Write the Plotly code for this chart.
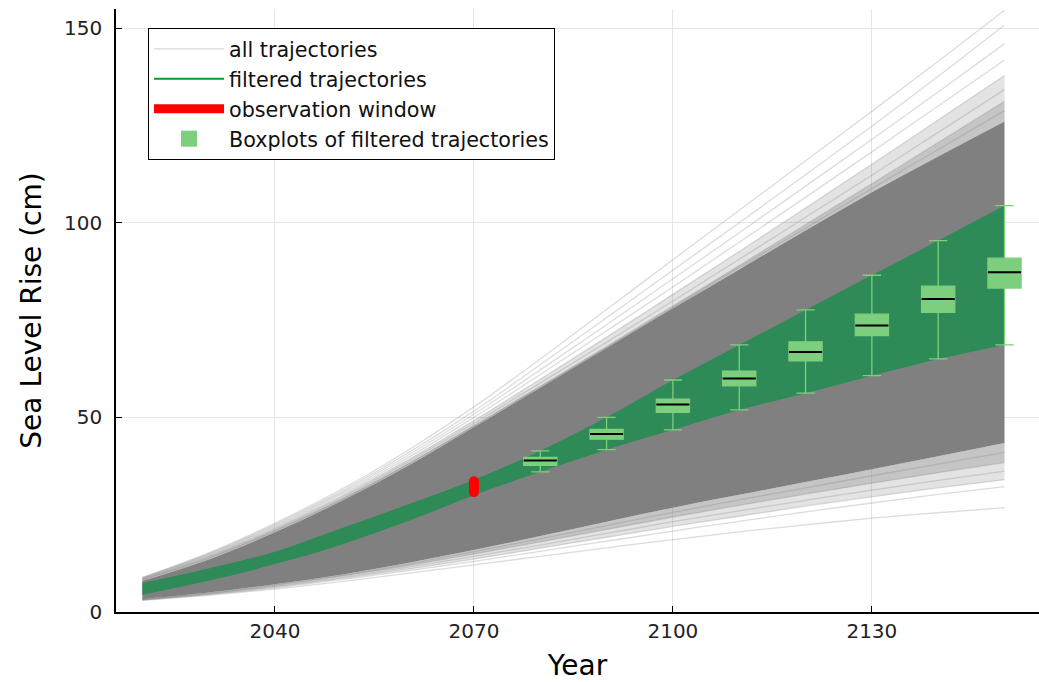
import plotly.graph_objects as go

# ---- data -----------------------------------------------------------------
years = [2020, 2030, 2040, 2050, 2060, 2070, 2080, 2090, 2100, 2110, 2120, 2130, 2140, 2150]

# dense core of all simulated trajectories (cm)
core_upper = [8.0, 13.5, 20.5, 28.5, 37.5, 47.5, 57.6, 67.8, 78.0, 88.0, 98.0, 107.8, 117.0, 126.0]
core_lower = [3.3, 5.0, 7.1, 9.6, 12.6, 15.9, 19.5, 23.2, 26.8, 30.1, 33.4, 36.7, 40.0, 43.4]

# individual trajectories at the upper fringe (cm)
traj_up_1 = [8.9, 15.2, 22.8, 31.5, 41.5, 52.7, 65.0, 77.7, 90.5, 103.2, 115.9, 128.6, 141.5, 154.6]
traj_up_2 = [8.8, 15.0, 22.5, 31.0, 40.8, 51.6, 63.5, 75.6, 87.8, 100.0, 112.3, 124.8, 137.6, 150.8]
traj_up_3 = [8.7, 14.8, 22.2, 30.6, 40.2, 50.8, 62.2, 73.8, 85.6, 97.4, 109.4, 121.4, 133.6, 146.0]
traj_up_4 = [8.6, 14.6, 21.9, 30.2, 39.6, 50.0, 61.0, 72.2, 83.5, 95.0, 106.5, 118.2, 130.0, 141.8]
traj_up_5 = [8.5, 14.4, 21.6, 29.8, 39.0, 49.2, 59.8, 70.6, 81.6, 92.6, 103.8, 115.0, 126.4, 137.8]
traj_up_6 = [8.4, 14.2, 21.3, 29.4, 38.5, 48.5, 58.8, 69.3, 79.9, 90.6, 101.4, 112.2, 123.2, 134.2]
traj_up_7 = [8.3, 14.0, 21.0, 29.0, 38.0, 47.9, 58.0, 68.2, 78.6, 89.0, 99.5, 110.0, 120.6, 131.2]
traj_up_8 = [8.2, 13.8, 20.8, 28.7, 37.8, 47.7, 57.8, 67.9, 78.2, 88.5, 98.6, 108.8, 118.8, 128.8]

# individual trajectories at the lower fringe (cm)
traj_lo_1 = [3.0, 4.3, 5.9, 7.8, 9.9, 12.1, 14.3, 16.5, 18.6, 20.6, 22.4, 24.1, 25.5, 26.8]
traj_lo_2 = [3.1, 4.5, 6.2, 8.3, 10.6, 13.0, 15.6, 18.2, 20.8, 23.3, 25.7, 28.0, 30.2, 32.2]
traj_lo_3 = [3.1, 4.6, 6.4, 8.6, 11.0, 13.6, 16.4, 19.2, 22.0, 24.6, 27.2, 29.6, 31.9, 34.0]
traj_lo_4 = [3.2, 4.7, 6.6, 8.9, 11.5, 14.3, 17.2, 20.2, 23.2, 26.0, 28.7, 31.3, 33.8, 36.2]
traj_lo_5 = [3.2, 4.8, 6.8, 9.2, 11.9, 14.9, 18.0, 21.2, 24.4, 27.4, 30.3, 33.1, 35.8, 38.4]
traj_lo_6 = [3.3, 4.9, 7.0, 9.4, 12.3, 15.5, 18.8, 22.2, 25.6, 28.8, 31.9, 35.0, 38.0, 41.0]

upper_fringe = [traj_up_1, traj_up_2, traj_up_3, traj_up_4, traj_up_5, traj_up_6, traj_up_7, traj_up_8]
lower_fringe = [traj_lo_1, traj_lo_2, traj_lo_3, traj_lo_4, traj_lo_5, traj_lo_6]

# envelope of trajectories that pass the observation window (cm)
filt_upper = [7.5, 11.2, 15.5, 21.5, 27.6, 34.0, 41.4, 50.0, 59.6, 68.6, 77.6, 86.5, 95.4, 104.4]
filt_lower = [4.4, 8.0, 12.3, 17.3, 23.3, 30.0, 36.0, 41.7, 46.8, 51.9, 56.2, 60.7, 65.0, 68.6]

# observation window
obs_year = [2070, 2070]
obs_range = [30.8, 33.6]

# boxplot statistics of filtered trajectories (cm)
box_years = [2080, 2090, 2100, 2110, 2120, 2130, 2140, 2150]
box_low = [36.0, 41.7, 46.8, 51.9, 56.2, 60.7, 65.0, 68.6]
box_q1 = [37.7, 44.4, 51.3, 58.1, 64.5, 71.0, 77.0, 83.2]
box_med = [38.9, 45.7, 53.3, 60.0, 66.8, 73.6, 80.4, 87.3]
box_q3 = [39.7, 46.9, 54.7, 61.9, 69.4, 76.5, 83.7, 90.9]
box_high = [41.4, 50.0, 59.6, 68.6, 77.6, 86.5, 95.4, 104.4]
box_width = 5.0

# ---- styles ---------------------------------------------------------------
FONT = "DejaVu Sans"
GRAY = "#808080"
SEA_GREEN = "#2e8b57"
BOX_GREEN = "#7dcf7d"
X_RANGE = [2016.03, 2155.2]
Y_RANGE = [0, 154.9]

fig = go.Figure()


def band(lower, upper, color):
    fig.add_trace(go.Scatter(x=years, y=lower, mode="lines", line=dict(width=0, shape="spline"),
                             hoverinfo="skip", showlegend=False))
    fig.add_trace(go.Scatter(x=years, y=upper, mode="lines", line=dict(width=0, shape="spline"),
                             fill="tonexty", fillcolor=color, hoverinfo="skip",
                             showlegend=False))


# soft fringe bands next to the dense core
band(core_upper, traj_up_5, "rgba(128,128,128,0.22)")
band(core_upper, traj_up_7, "rgba(128,128,128,0.30)")
band(traj_lo_3, core_lower, "rgba(128,128,128,0.22)")
band(traj_lo_5, core_lower, "rgba(128,128,128,0.30)")

# individual fringe trajectories
for tr in upper_fringe + lower_fringe:
    fig.add_trace(go.Scatter(x=years, y=tr, mode="lines",
                             line=dict(color="rgba(128,128,128,0.28)", width=1.3, shape="spline"),
                             hoverinfo="skip", showlegend=False))

# dense core of all trajectories
band(core_lower, core_upper, GRAY)

# filtered trajectories
band(filt_lower, filt_upper, SEA_GREEN)

# observation window
fig.add_trace(go.Scatter(x=obs_year, y=obs_range, mode="lines+markers",
                         line=dict(color="red", width=10),
                         marker=dict(color="red", size=10),
                         hoverinfo="skip", showlegend=False))

# boxplots of the filtered trajectories, on an overlaid axis pair so they sit on top
fig.add_trace(go.Box(
    x=box_years, q1=box_q1, median=box_med, q3=box_q3,
    lowerfence=box_low, upperfence=box_high,
    width=box_width, whiskerwidth=0.55,
    fillcolor=BOX_GREEN, line=dict(color=BOX_GREEN, width=1.3),
    boxpoints=False, hoverinfo="skip", showlegend=False,
    xaxis="x2", yaxis="y2",
))
for yr, med in zip(box_years, box_med):
    fig.add_trace(go.Scatter(x=[yr - box_width / 2, yr + box_width / 2],
                             y=[med, med], mode="lines",
                             line=dict(color="black", width=2),
                             hoverinfo="skip", showlegend=False,
                             xaxis="x2", yaxis="y2"))

# legend entries
fig.add_trace(go.Scatter(x=[None], y=[None], mode="lines", name="all trajectories",
                         line=dict(color="#d6d6d6", width=1.2)))
fig.add_trace(go.Scatter(x=[None], y=[None], mode="lines", name="filtered trajectories",
                         line=dict(color="#0a9a2e", width=2)))
fig.add_trace(go.Scatter(x=[None], y=[None], mode="lines", name="observation window",
                         line=dict(color="red", width=9)))
fig.add_trace(go.Scatter(x=[None], y=[None], mode="markers", name="Boxplots of filtered trajectories",
                         marker=dict(color=BOX_GREEN, symbol="square", size=18)))

axis_common = dict(
    showgrid=True, gridcolor="#e5e5e5", gridwidth=1,
    showline=True, linecolor="black", linewidth=1.5,
    ticks="inside", ticklen=6, tickcolor="black", tickwidth=1,
    zeroline=False, mirror=False,
    tickfont=dict(family=FONT, size=20, color="#222222"),
)

fig.update_layout(
    width=1039, height=682,
    margin=dict(l=116, r=0, t=9, b=70),
    paper_bgcolor="white", plot_bgcolor="white",
    font=dict(family=FONT, color="black"),
    showlegend=True,
    boxmode="overlay",
    legend=dict(
        x=0.0347, y=0.9685, xanchor="left", yanchor="top",
        bgcolor="white", bordercolor="black", borderwidth=1,
        font=dict(family=FONT, size=20.7, color="#111111"),
        itemwidth=70, tracegroupgap=0, traceorder="normal",
    ),
    xaxis=dict(range=X_RANGE, tickvals=[2040, 2070, 2100, 2130],
               title=dict(text="Year", font=dict(family=FONT, size=28), standoff=14),
               **axis_common),
    yaxis=dict(range=Y_RANGE, tickvals=[0, 50, 100, 150],
               title=dict(text="Sea Level Rise (cm)", font=dict(family=FONT, size=28), standoff=14),
               ticklabelstandoff=8,
               **axis_common),
    xaxis2=dict(range=X_RANGE, overlaying="x", visible=False, showgrid=False, zeroline=False),
    yaxis2=dict(range=Y_RANGE, overlaying="y", visible=False, showgrid=False, zeroline=False),
)

fig.write_html("out.html")
